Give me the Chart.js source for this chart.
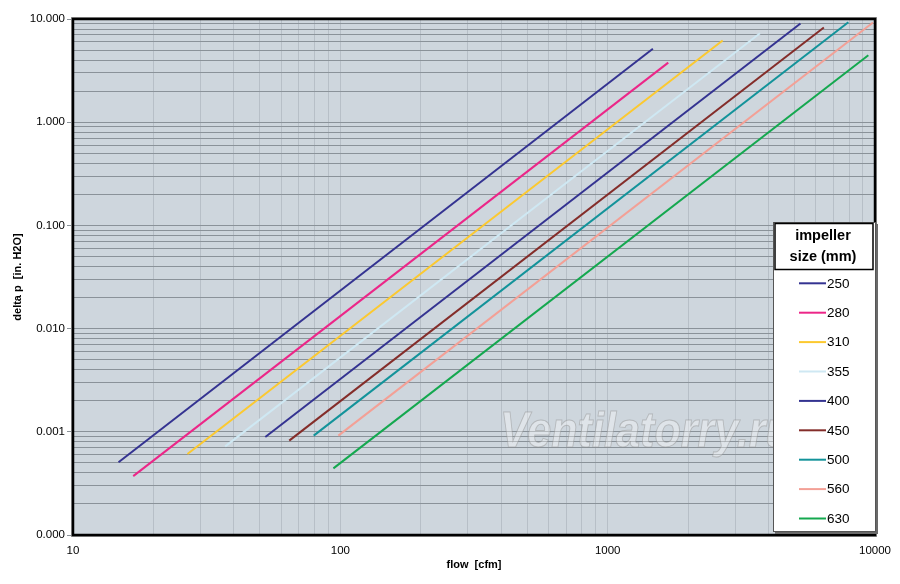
<!DOCTYPE html>
<html><head><meta charset="utf-8">
<script src="https://cdn.jsdelivr.net/npm/chart.js@4.4.1/dist/chart.umd.min.js"></script>
<style>html,body{margin:0;padding:0;background:#fff}</style>
</head><body>
<canvas id="c" width="900" height="584"></canvas>
<script>
// impeller sizes (mm)
const sizes = ['250', '280', '310', '355', '400', '450', '500', '560', '630'];
// flow [cfm] at start and end of each curve
const flowStart = [14.8, 16.8, 26.8, 37.1, 52.4, 64.4, 79.5, 98.3, 94.2];
const flowEnd = [1476, 1685, 2692, 3715, 5262, 6437, 7946, 9828, 9441];
// delta p [in. H2O] at start and end of each curve
const dpStart = [0.000506, 0.000372, 0.000609, 0.000723, 0.00089, 0.000821, 0.000918, 0.000918, 0.000442];
const dpEnd = [5.14, 3.78, 6.18, 7.28, 9.04, 8.27, 9.31, 9.25, 4.45];
const colors = ['#343391', '#ec2688', '#fcc92f', '#cfe8f3', '#343391', '#842d2a', '#13939a', '#f3a096', '#14a84f'];
// axis ranges
const xMin = 10, xMax = 10000;
const yMin = 0.0001, yMax = 10;

const FONT = '"Liberation Sans", Arial, sans-serif';

function isDecade(v) {
  const l = Math.log10(v);
  return Math.abs(l - Math.round(l)) < 1e-9;
}
function logTicks(min, max) {
  const t = [];
  const e0 = Math.round(Math.log10(min)), e1 = Math.round(Math.log10(max));
  for (let e = e0; e < e1; e++) {
    for (let m = 1; m < 10; m++) t.push({ value: m * Math.pow(10, e) });
  }
  t.push({ value: max });
  return t;
}

const datasets = sizes.map((s, i) => ({
  label: s,
  data: [{ x: flowStart[i], y: dpStart[i] }, { x: flowEnd[i], y: dpEnd[i] }],
  borderColor: colors[i],
  backgroundColor: colors[i],
  borderWidth: 2,
  pointRadius: 0,
  tension: 0,
  fill: false
}));

const bgPlugin = {
  id: 'plotbg',
  beforeDraw(chart) {
    const { ctx, chartArea: a } = chart;
    ctx.save();
    ctx.fillStyle = '#ced6dd';
    ctx.fillRect(a.left, a.top, a.right - a.left, a.bottom - a.top);
    ctx.restore();
  },
  beforeDatasetsDraw(chart) {
    // watermark
    const { ctx } = chart;
    ctx.save();
    ctx.font = 'italic bold 50px ' + FONT;
    const txt = 'Ventilatorry.ru';
    const w = ctx.measureText(txt).width;
    const sx = 292 / w;
    ctx.translate(500, 447);
    ctx.scale(sx, 1);
    ctx.fillStyle = 'rgba(255,255,255,0.35)';
    ctx.strokeStyle = 'rgba(140,140,140,0.45)';
    ctx.lineWidth = 1;
    ctx.textBaseline = 'alphabetic';
    ctx.fillText(txt, 0, 0);
    ctx.strokeText(txt, 0, 0);
    ctx.restore();
  },
  afterDatasetsDraw(chart) {
    const { ctx, chartArea: a } = chart;
    ctx.save();
    ctx.strokeStyle = '#9a9a9a';
    ctx.lineWidth = 1;
    ctx.strokeRect(a.left - 1.5, a.top - 1.5, a.right - a.left + 3, a.bottom - a.top + 3);
    ctx.strokeStyle = '#000';
    ctx.lineWidth = 2.5;
    ctx.strokeRect(a.left, a.top, a.right - a.left, a.bottom - a.top);
    ctx.restore();
  },
  afterDraw(chart) {
    const { ctx } = chart;
    const L = 773, T = 222, R = 876, B = 532;
    ctx.save();
    // shadow
    ctx.fillStyle = '#6a6a6a';
    ctx.fillRect(L + 2, T + 2, R - L, B - T);
    ctx.fillStyle = '#fff';
    ctx.fillRect(L, T, R - L, B - T);
    ctx.strokeStyle = '#555';
    ctx.lineWidth = 1;
    ctx.strokeRect(L + 0.5, T + 0.5, R - L - 1, B - T - 1);
    // title box
    ctx.strokeStyle = '#000';
    ctx.lineWidth = 1.5;
    ctx.strokeRect(775, 223.5, 98, 46);
    ctx.fillStyle = '#000';
    ctx.font = 'bold 14.5px ' + FONT;
    ctx.textAlign = 'center';
    ctx.textBaseline = 'middle';
    ctx.fillText('impeller', 823, 236);
    ctx.fillText('size (mm)', 823, 257);
    // items
    ctx.font = '13.5px ' + FONT;
    ctx.textAlign = 'left';
    chart.data.datasets.forEach((d, i) => {
      const y = 283.3 + i * 29.4;
      ctx.strokeStyle = d.borderColor;
      ctx.lineWidth = 2;
      ctx.beginPath();
      ctx.moveTo(799, y);
      ctx.lineTo(826, y);
      ctx.stroke();
      ctx.fillStyle = '#000';
      ctx.fillText(d.label, 827, y + 0.5);
    });
    ctx.restore();
  }
};

new Chart(document.getElementById('c'), {
  type: 'line',
  data: { datasets },
  options: {
    responsive: false,
    animation: false,
    devicePixelRatio: 1,
    layout: { padding: { top: 19, right: 23, left: 0, bottom: 0 } },
    plugins: { legend: { display: false }, tooltip: { enabled: false } },
    scales: {
      x: {
        type: 'logarithmic',
        min: xMin, max: xMax,
        afterBuildTicks(scale) { scale.ticks = logTicks(xMin, xMax); },
        afterFit(scale) { scale.height = 49; },
        border: { display: false },
        grid: { color: '#b7bfc7', lineWidth: 1, drawTicks: false },
        ticks: {
          autoSkip: false, maxRotation: 0, padding: 9,
          color: '#000',
          font: { family: FONT, size: 11.5 },
          callback(v) { return isDecade(v) ? String(Math.round(v)) : ''; }
        },
        title: {
          display: true, text: 'flow  [cfm]', color: '#000',
          font: { family: FONT, size: 11, weight: 'bold' },
          padding: { top: 0, bottom: 12 }
        }
      },
      y: {
        type: 'logarithmic',
        min: yMin, max: yMax,
        afterBuildTicks(scale) { scale.ticks = logTicks(yMin, yMax); },
        afterFit(scale) { scale.width = 73; },
        border: { display: false },
        grid: {
          color: '#8a9299', lineWidth: 1, drawTicks: true, tickLength: 6,
          tickColor(ctx) { return ctx.tick && isDecade(ctx.tick.value) ? '#8a9299' : 'rgba(0,0,0,0)'; }
        },
        ticks: {
          autoSkip: false, padding: 2,
          color: '#000',
          font: { family: FONT, size: 11.5 },
          callback(v) { return isDecade(v) ? Number(v).toFixed(3) : ''; }
        },
        title: {
          display: true, text: 'delta p  [in. H2O]', color: '#000',
          font: { family: FONT, size: 11, weight: 'bold' },
          padding: { top: 11, bottom: 0 }
        }
      }
    }
  },
  plugins: [bgPlugin]
});
</script>
</body></html>
